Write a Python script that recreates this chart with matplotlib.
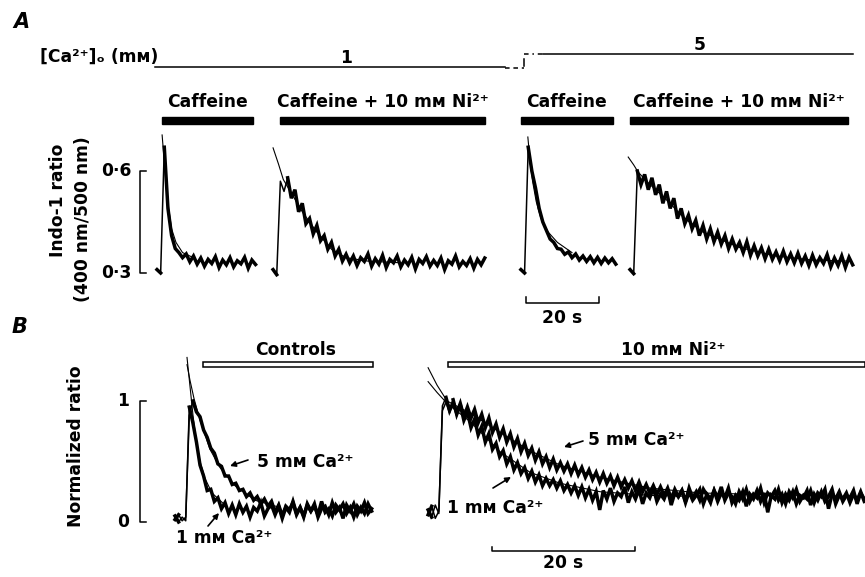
import numpy as np
import matplotlib
matplotlib.use("Agg")
import matplotlib.pyplot as plt
from matplotlib.patches import Rectangle, FancyArrowPatch
from matplotlib.transforms import blended_transform_factory as blend

plt.rcParams['font.family'] = ['DejaVu Sans', 'Noto Sans']
plt.rcParams['font.weight'] = 'bold'

# ===================== DATA =====================
# Panel A: Indo-1 ratio (400 nm/500 nm), one sample per second from each recording's start
A_dt = 1.0
A_starts = [0.0, 31.8, 99.7, 129.6]          # s, start of each recording on the common time axis
A_caf_1mM = [0.31, 0.30, 0.67, 0.49, 0.41, 0.372, 0.36, 0.345, 0.356, 0.333, 0.350, 0.326, 0.344, 0.320,
             0.340, 0.328, 0.348, 0.316, 0.338, 0.324, 0.345, 0.318, 0.336, 0.327, 0.346, 0.314, 0.338, 0.325]
A_caf_ni_1mM = [0.31, 0.295, 0.57, 0.54, 0.58, 0.52, 0.545, 0.48, 0.505, 0.445, 0.46, 0.415, 0.44, 0.395,
                0.41, 0.37, 0.39, 0.35, 0.37, 0.335, 0.355,
                0.33, 0.35, 0.322, 0.345, 0.334, 0.356, 0.32, 0.342, 0.326, 0.352, 0.316, 0.34, 0.33, 0.35,
                0.318, 0.338, 0.324, 0.346, 0.312, 0.34, 0.328, 0.348, 0.32, 0.337, 0.322, 0.344, 0.31, 0.336,
                0.326, 0.35, 0.318, 0.334, 0.322, 0.342, 0.314, 0.34, 0.324, 0.344]
A_caf_5mM = [0.31, 0.30, 0.67, 0.60, 0.55, 0.49, 0.45, 0.425, 0.40, 0.39, 0.372, 0.37, 0.355, 0.362, 0.345,
             0.356, 0.338, 0.35, 0.334, 0.348, 0.33, 0.346, 0.328, 0.344, 0.33, 0.342, 0.326]
A_caf_ni_5mM = [0.31, 0.298, 0.60, 0.56, 0.59, 0.545, 0.58, 0.53, 0.56, 0.505, 0.54, 0.49, 0.52, 0.46, 0.49,
                0.445, 0.47, 0.43, 0.455, 0.41, 0.44, 0.40, 0.43, 0.392, 0.42, 0.385, 0.41, 0.372, 0.40, 0.37,
                0.39, 0.36, 0.392, 0.352, 0.38, 0.35, 0.374, 0.342, 0.37, 0.34, 0.362, 0.336, 0.364, 0.333,
                0.356, 0.33, 0.358, 0.328, 0.35, 0.322, 0.352, 0.324, 0.345, 0.328, 0.354, 0.318, 0.344, 0.322,
                0.35, 0.316, 0.346, 0.324]
A_traces = [A_caf_1mM, A_caf_ni_1mM, A_caf_5mM, A_caf_ni_5mM]
# exponential fits (time from recording start, ratio)
A_fit_t = [[1.4, 1.9, 2.5, 3.2, 4.0, 5.2, 7.0, 10.0],
           [0.0, 1.5, 2.8, 5, 8, 12, 16, 20, 26, 35],
           [1.9, 2.5, 3.2, 4.2, 5.5, 7.5, 10, 14],
           [-0.5, 1.0, 2.2, 5, 10, 15, 20, 30, 40, 50, 60]]
A_fit_v = [[0.706, 0.64, 0.56, 0.49, 0.43, 0.39, 0.36, 0.345],
           [0.668, 0.62, 0.575, 0.535, 0.48, 0.42, 0.37, 0.345, 0.335, 0.33],
           [0.70, 0.63, 0.57, 0.51, 0.46, 0.42, 0.39, 0.36],
           [0.641, 0.618, 0.597, 0.565, 0.515, 0.46, 0.42, 0.375, 0.35, 0.338, 0.335]]
A_app_spans = [(1.4, 26.3), (33.7, 89.9), (99.7, 124.9), (129.6, 189.3)]
A_app_labels = ['Caffeine', 'Caffeine + 10 mм Ni²⁺', 'Caffeine', 'Caffeine + 10 mм Ni²⁺']
Ca_spans = [(-0.5, 95.3), (105.8, 190.7)]
Ca_labels = ['1', '5']
Ca_label_t = [51.8, 148.8]
A_scale = [0.3, 0.6]
A_scale_labels = ['0·3', '0·6']
A_time_bar = (101.1, 20.0)

# Panel B: normalized ratio, one sample per 0.5 s
B_dt = 0.5
B_starts = [0.0, 35.4]
B_ctrl_1mM = [0.05, 0.00, 0.04, 0.01, 0.95, 0.82, 0.66, 0.47, 0.38, 0.26, 0.27, 0.17, 0.20, 0.11, 0.16, 0.07, 0.14,
              0.06, 0.15, 0.08, 0.13, 0.04, 0.12, 0.09, 0.16, 0.05, 0.11, 0.14, 0.06, 0.13, 0.03, 0.12, 0.08,
              0.17, 0.07, 0.12, 0.05, 0.14, 0.09, 0.15, 0.04, 0.11, 0.13, 0.06, 0.16, 0.08, 0.12, 0.03, 0.14,
              0.09, 0.15, 0.06, 0.12, 0.07, 0.15, 0.09]
B_ctrl_5mM = [0.02, 0.06, 0.01, 0.04, 0.88, 1.00, 0.91, 0.87, 0.76, 0.70, 0.61, 0.57, 0.48, 0.46, 0.38, 0.38,
              0.31, 0.32, 0.26, 0.27, 0.21, 0.24, 0.18, 0.21, 0.15, 0.19, 0.13, 0.17,
              0.08, 0.14, 0.05, 0.13, 0.10, 0.16, 0.06, 0.12, 0.04, 0.15, 0.09, 0.13, 0.06, 0.17, 0.08, 0.11,
              0.05, 0.14, 0.10, 0.15, 0.07, 0.12, 0.04, 0.13, 0.09, 0.16, 0.07, 0.11]
B_ni_1mM = [0.06, 0.13, 0.03, 0.09, 0.92, 0.99, 0.90, 1.01, 0.89, 0.97, 0.84, 0.91, 0.78, 0.85, 0.72, 0.79,
            0.66, 0.73, 0.60, 0.65, 0.54, 0.59, 0.48, 0.54, 0.43, 0.49, 0.40, 0.45, 0.36, 0.42, 0.33, 0.39,
            0.30, 0.36, 0.30, 0.35, 0.28, 0.34, 0.26, 0.31, 0.24, 0.30, 0.22, 0.29,
            0.20, 0.27, 0.18, 0.25, 0.10, 0.26, 0.19, 0.28, 0.17, 0.24, 0.21, 0.29, 0.16, 0.25, 0.19, 0.27,
            0.15, 0.24, 0.20, 0.28, 0.17, 0.23, 0.19, 0.27, 0.14, 0.24, 0.21, 0.26, 0.16, 0.25, 0.18, 0.22,
            0.27, 0.15, 0.23, 0.19, 0.26, 0.17, 0.24, 0.20, 0.28, 0.16, 0.22, 0.18, 0.25, 0.13, 0.23, 0.19,
            0.26, 0.17, 0.24, 0.08, 0.22, 0.19, 0.27, 0.16, 0.23, 0.18, 0.25, 0.15, 0.22, 0.20, 0.26, 0.14,
            0.23, 0.18, 0.25, 0.17, 0.21, 0.27, 0.15, 0.22, 0.19, 0.24, 0.16, 0.23, 0.18, 0.25, 0.17]
B_ni_5mM = [0.10, 0.04, 0.14, 0.07, 0.96, 1.03, 0.92, 0.99, 0.90, 0.98, 0.87, 0.95, 0.86, 0.93, 0.82, 0.89,
            0.78, 0.86, 0.74, 0.81, 0.70, 0.77, 0.66, 0.73, 0.62, 0.69, 0.58, 0.65, 0.55, 0.61, 0.51, 0.58,
            0.48, 0.54, 0.45, 0.52, 0.43, 0.49,
            0.42, 0.48, 0.40, 0.47, 0.39, 0.45, 0.37, 0.43, 0.35, 0.41, 0.33, 0.40, 0.32, 0.38, 0.30, 0.37,
            0.29, 0.35, 0.28, 0.34, 0.26, 0.33, 0.25, 0.31, 0.24, 0.30, 0.23, 0.29, 0.22, 0.28,
            0.19, 0.27, 0.21, 0.26, 0.17, 0.28, 0.20, 0.25, 0.18, 0.27, 0.22, 0.16, 0.26, 0.20, 0.29, 0.18,
            0.24, 0.21, 0.15, 0.25, 0.19, 0.27, 0.17, 0.23, 0.20, 0.28, 0.16, 0.24, 0.21, 0.26, 0.18, 0.23,
            0.15, 0.25, 0.20, 0.27, 0.17, 0.22, 0.19, 0.26, 0.16, 0.24, 0.21, 0.27, 0.11, 0.23, 0.19, 0.25,
            0.17, 0.22, 0.20, 0.26, 0.15, 0.24, 0.19]
B_traces = [(0, B_ctrl_1mM), (0, B_ctrl_5mM), (1, B_ni_1mM), (1, B_ni_5mM)]
B_fit_rec = [0, 0, 1, 1]
B_fit_t = [[1.68, 2.10, 2.52, 2.94, 3.50, 4.20, 5.17, 6.99],
           [1.68, 2.10, 2.66, 3.50, 4.90, 6.29, 8.39, 11.19, 14.69],
           [0, 1.26, 2.66, 5.87, 10.07, 14.27, 18.46, 24.06, 31.05, 38.04],
           [0, 1.26, 2.66, 5.87, 10.07, 14.27, 18.46, 24.06, 31.05, 38.04, 52.03, 60.42]]
B_fit_v = [[1.36, 1.12, 0.88, 0.68, 0.50, 0.36, 0.24, 0.14],
           [1.30, 1.17, 1.02, 0.84, 0.60, 0.45, 0.30, 0.18, 0.12],
           [1.16, 1.07, 0.98, 0.83, 0.58, 0.41, 0.32, 0.25, 0.22, 0.21],
           [1.275, 1.13, 1.0, 0.90, 0.74, 0.59, 0.47, 0.37, 0.28, 0.24, 0.22, 0.21]]
B_app_spans = [(3.9, 27.7), (38.2, 96.5)]
B_app_labels = ['Controls', '10 mм Ni²⁺']
B_app_label_t = [16.9, 69.7]
B_scale = [0, 1]
B_scale_labels = ['0', '1']
B_time_bar = (44.3, 20.0)

# ===================== LAYOUT =====================
W, H = 865, 577
fig = plt.figure(figsize=(W / 100, H / 100), dpi=100)
fig.patch.set_facecolor('white')


def fx(px):
    return px / W


def fy(py):
    return 1 - py / H


FS = 12.3
K = 'black'
LW_RISE = 1.1
LW_TRACE = 2.5
LW_FIT = 0.8


def draw_trace(ax, t, vals):
    vals = np.asarray(vals)
    i = int(np.argmax(vals[:8]))            # rising phase drawn thin, noisy record drawn heavy
    ax.plot(t[:i + 1], vals[:i + 1], color=K, lw=LW_RISE, clip_on=False)
    ax.plot(t[i:], vals[i:], color=K, lw=LW_TRACE, clip_on=False, solid_joinstyle='miter')
    ax.plot(t[:2], vals[:2], color=K, lw=LW_TRACE, clip_on=False)


# ---- panel A axes: 3.65 px per s, 340 px per ratio unit
axA = fig.add_axes([0, fy(300), 1, (300 - 118) / H])
axA.set_xlim((0 - 157) / 3.65, (W - 157) / 3.65)
axA.set_ylim(0.6 - (300 - 171) / 340, 0.6 + (171 - 118) / 340)
axA.axis('off')
trA_xf = blend(axA.transData, fig.transFigure)
trA_fy = blend(fig.transFigure, axA.transData)

for s, ft, fv in zip(A_starts, A_fit_t, A_fit_v):
    axA.plot(s + np.asarray(ft), fv, color=K, lw=LW_FIT, clip_on=False)
for s, vals in zip(A_starts, A_traces):
    draw_trace(axA, s + A_dt * np.arange(len(vals)), vals)

# application bars
for (a, b), lab in zip(A_app_spans, A_app_labels):
    axA.add_patch(Rectangle((a, fy(124)), b - a, 7 / H, transform=trA_xf,
                            facecolor=K, edgecolor=K, clip_on=False))
    axA.text((a + b) / 2, fy(107), lab, transform=trA_xf, ha='center', va='baseline', fontsize=FS)

# [Ca2+]o line
ys = [67, 54]
for (a, b), y in zip(Ca_spans, ys):
    axA.plot([a, b], [fy(y)] * 2, transform=trA_xf, color=K, lw=1.1, clip_on=False)
axA.plot([Ca_spans[0][1], 100.6], [fy(67.5)] * 2, transform=trA_xf, color=K, lw=1.1,
         ls=(0, (3, 2.5)), clip_on=False)
axA.plot([100.6, 100.6], [fy(66), fy(59)], transform=trA_xf, color=K, lw=1.1, clip_on=False)
axA.plot([100.6, Ca_spans[1][0]], [fy(54)] * 2, transform=trA_xf, color=K, lw=1.1,
         ls=(0, (3, 2.5, 1, 2.5)), clip_on=False)
for t, lab, y in zip(Ca_label_t, Ca_labels, [63, 50]):
    axA.text(t, fy(y), lab, transform=trA_xf, ha='center', va='baseline', fontsize=FS)
fig.text(fx(40), fy(62), '[Ca²⁺]ₒ (mм)', ha='left', va='baseline', fontsize=FS)

# vertical scale bar
axA.plot([fx(146), fx(140), fx(140), fx(146)], [A_scale[1], A_scale[1], A_scale[0], A_scale[0]],
         transform=trA_fy, color=K, lw=1.1, clip_on=False)
for v, lab in zip(A_scale, A_scale_labels):
    axA.text(fx(131), v, lab, transform=trA_fy, ha='right', va='center', fontsize=FS)
fig.text(fx(58), fy(200), 'Indo-1 ratio', rotation=90, ha='center', va='center', fontsize=FS)
fig.text(fx(83), fy(219), '(400 nm/500 nm)', rotation=90, ha='center', va='center', fontsize=FS)

# time scale bar
t0, dt = A_time_bar
axA.plot([t0, t0, t0 + dt, t0 + dt], [fy(297), fy(303), fy(303), fy(297)], transform=trA_xf,
         color=K, lw=1.1, clip_on=False)
axA.text(t0 + dt / 2, fy(323), '20 s', transform=trA_xf, ha='center', va='baseline', fontsize=FS)

# ---- panel B axes: 7.15 px per s, 121 px per unit
axB = fig.add_axes([0, fy(565), 1, (565 - 335) / H])
axB.set_xlim((0 - 175) / 7.15, (W - 175) / 7.15)
axB.set_ylim((522 - 565) / 121, (522 - 335) / 121)
axB.axis('off')
trB_xf = blend(axB.transData, fig.transFigure)
trB_fy = blend(fig.transFigure, axB.transData)

for rec, ft, fv in zip(B_fit_rec, B_fit_t, B_fit_v):
    axB.plot(B_starts[rec] + np.asarray(ft), fv, color=K, lw=LW_FIT, clip_on=False)
for rec, vals in B_traces:
    draw_trace(axB, B_starts[rec] + B_dt * np.arange(len(vals)), vals)

for (a, b), lab, lt in zip(B_app_spans, B_app_labels, B_app_label_t):
    axB.add_patch(Rectangle((a, fy(367)), b - a, 5 / H, transform=trB_xf,
                            facecolor='white', edgecolor=K, lw=1.1, clip_on=False))
    axB.text(lt, fy(355), lab, transform=trB_xf, ha='center', va='baseline', fontsize=FS)

axB.plot([fx(146), fx(140), fx(140), fx(146)], [B_scale[1], B_scale[1], B_scale[0], B_scale[0]],
         transform=trB_fy, color=K, lw=1.1, clip_on=False)
for v, lab in zip(B_scale, B_scale_labels):
    axB.text(fx(129), v, lab, transform=trB_fy, ha='right', va='center', fontsize=FS)
fig.text(fx(76), fy(446), 'Normalized ratio', rotation=90, ha='center', va='center', fontsize=FS)

t0, dt = B_time_bar
axB.plot([t0, t0, t0 + dt, t0 + dt], [fy(547), fy(551), fy(551), fy(547)], transform=trB_xf,
         color=K, lw=1.1, clip_on=False)
axB.text(t0 + dt / 2, fy(568), '20 s', transform=trB_xf, ha='center', va='baseline', fontsize=FS)

# trace labels with arrows (figure pixels)
labels = [('5 mм Ca²⁺', 305, 467, (248, 460), (230, 466)),
          ('1 mм Ca²⁺', 224, 543, (208, 526), (219, 513)),
          ('5 mм Ca²⁺', 636, 445, (583, 441), (564, 447)),
          ('1 mм Ca²⁺', 495, 513, (493, 488), (511, 477))]
for txt, cx, by, tail, head in labels:
    fig.text(fx(cx), fy(by), txt, ha='center', va='baseline', fontsize=FS)
    fig.add_artist(FancyArrowPatch(
        (fx(tail[0]), fy(tail[1])), (fx(head[0]), fy(head[1])), transform=fig.transFigure,
        arrowstyle='-|>', mutation_scale=8, lw=1.2, color=K, shrinkA=0, shrinkB=0))

# panel letters
fig.text(fx(21), fy(22.5), 'A', ha='center', va='center', fontsize=15, fontstyle='italic')
fig.text(fx(20), fy(327), 'B', ha='center', va='center', fontsize=15, fontstyle='italic')

fig.savefig('out.png', dpi=100, facecolor='white')
